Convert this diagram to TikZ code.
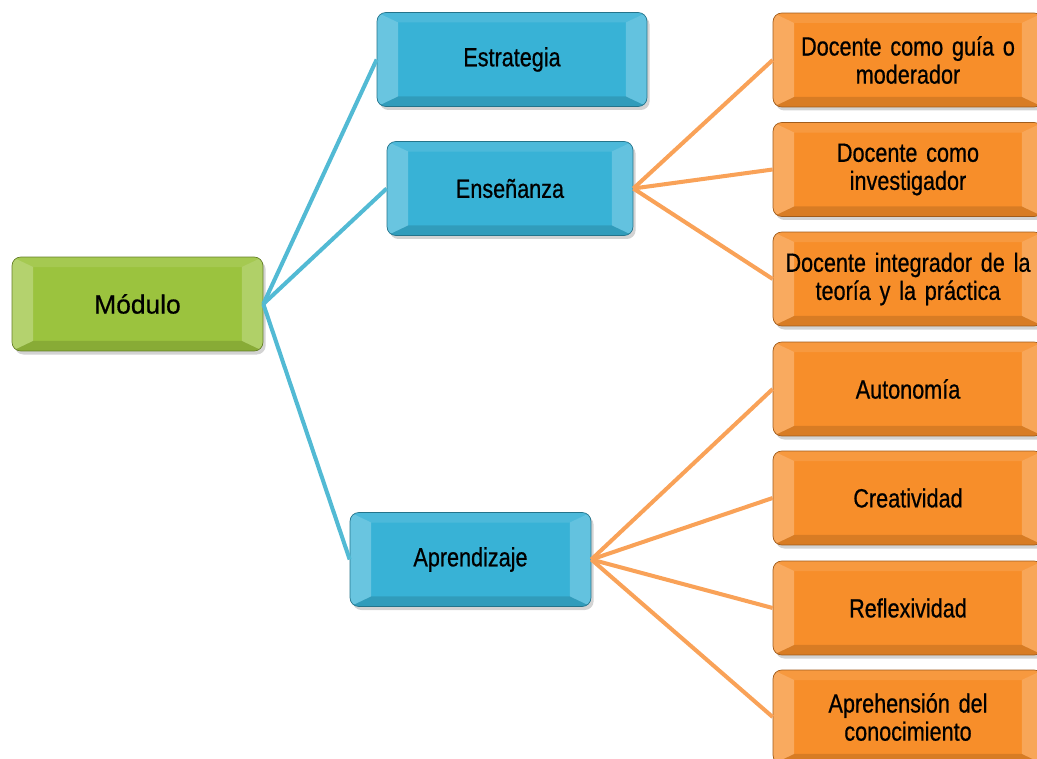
\documentclass[tikz,border=0pt]{standalone}
\usepackage{fontspec}
\setmainfont{Liberation Sans}[FakeStretch=0.82, FakeBold=0.6, WordSpace=0.6]
\newfontfamily\anchafont{Liberation Sans}[FakeBold=0.6]
\usetikzlibrary{shadows}

\definecolor{verde}{RGB}{155,195,62}
\definecolor{azul}{RGB}{56,178,214}
\definecolor{naranja}{RGB}{247,142,42}
\definecolor{lineaazul}{RGB}{82,186,212}
\definecolor{lineanaranja}{RGB}{249,162,88}

\tikzset{
  caja/.style={rectangle, rounded corners=5pt, minimum height=1.88cm,
    inner sep=0.15cm, align=center, text=black,
    font=\fontsize{15}{16}\selectfont,
    drop shadow={opacity=0.35, shadow xshift=1.5pt, shadow yshift=-2pt},
    path picture={
      \fill[sharp corners, white, opacity=0.25]
        (path picture bounding box.north west)
        -- ([shift={(0.42cm,-0.2cm)}]path picture bounding box.north west)
        -- ([shift={(0.42cm,0.2cm)}]path picture bounding box.south west)
        -- (path picture bounding box.south west) -- cycle;
      \fill[sharp corners, white, opacity=0.22]
        (path picture bounding box.north east)
        -- ([shift={(-0.42cm,-0.2cm)}]path picture bounding box.north east)
        -- ([shift={(-0.42cm,0.2cm)}]path picture bounding box.south east)
        -- (path picture bounding box.south east) -- cycle;
      \fill[sharp corners, white, opacity=0.1]
        (path picture bounding box.north west)
        -- (path picture bounding box.north east)
        -- ([shift={(-0.42cm,-0.2cm)}]path picture bounding box.north east)
        -- ([shift={(0.42cm,-0.2cm)}]path picture bounding box.north west) -- cycle;
      \fill[sharp corners, black, opacity=0.12]
        (path picture bounding box.south west)
        -- (path picture bounding box.south east)
        -- ([shift={(-0.42cm,0.2cm)}]path picture bounding box.south east)
        -- ([shift={(0.42cm,0.2cm)}]path picture bounding box.south west) -- cycle;
    }},
  raiz/.style={caja, fill=verde, draw=verde!65!black, line width=.4pt,
    font=\fontsize{15}{16}\selectfont\anchafont},
  rama/.style={caja, fill=azul, draw=azul!65!black, line width=.4pt},
  hoja/.style={caja, fill=naranja, draw=naranja!65!black, line width=.4pt,
    text width=5.1cm},
  conazul/.style={draw=lineaazul, line width=2.3pt},
  connaranja/.style={draw=lineanaranja, line width=2.3pt}
}

\begin{document}
\begin{tikzpicture}[x=0.02cm, y=-0.02cm]
  \useasboundingbox (0,0) rectangle (1037,759);
  \clip (0,0) rectangle (1037,759);

  % Root
  \node[raiz, minimum width=5.02cm] (Modulo) at (137.5,304) {Módulo};

  % Branches
  \node[rama, minimum width=5.4cm] (Estrategia) at (512,59.5) {Estrategia};
  \node[rama, minimum width=4.92cm] (Ensenanza) at (510,188.5) {Enseñanza};
  \node[rama, minimum width=4.82cm] (Aprendizaje) at (470.5,559.5) {Aprendizaje};

  % Leaves of Enseñanza
  \foreach \name/\i/\y in {{Docente como guía o\\moderador}/1/60,
                           {Docente como\\investigador}/2/169.5,
                           {Docente integrador de la\\teoría y la práctica}/3/279} {
    \node[hoja] (Rol-\i) at (908,\y) {\name};
  }
  % Leaves of Aprendizaje
  \foreach \name/\i/\y in {Autonomía/4/389, Creatividad/5/498,
                           Reflexividad/6/608,
                           {Aprehensión del\\conocimiento}/7/717} {
    \node[hoja] (Rasgo-\i) at (908,\y) {\name};
  }

  % Connectors
  \foreach \j in {Estrategia, Ensenanza, Aprendizaje} {
    \draw[conazul] (Modulo.east) -- (\j.west);
  }
  \foreach \j in {1,2,3} {
    \draw[connaranja] (Ensenanza.east) -- (Rol-\j.west);
  }
  \foreach \j in {4,5,6,7} {
    \draw[connaranja] (Aprendizaje.east) -- (Rasgo-\j.west);
  }
\end{tikzpicture}
\end{document}
